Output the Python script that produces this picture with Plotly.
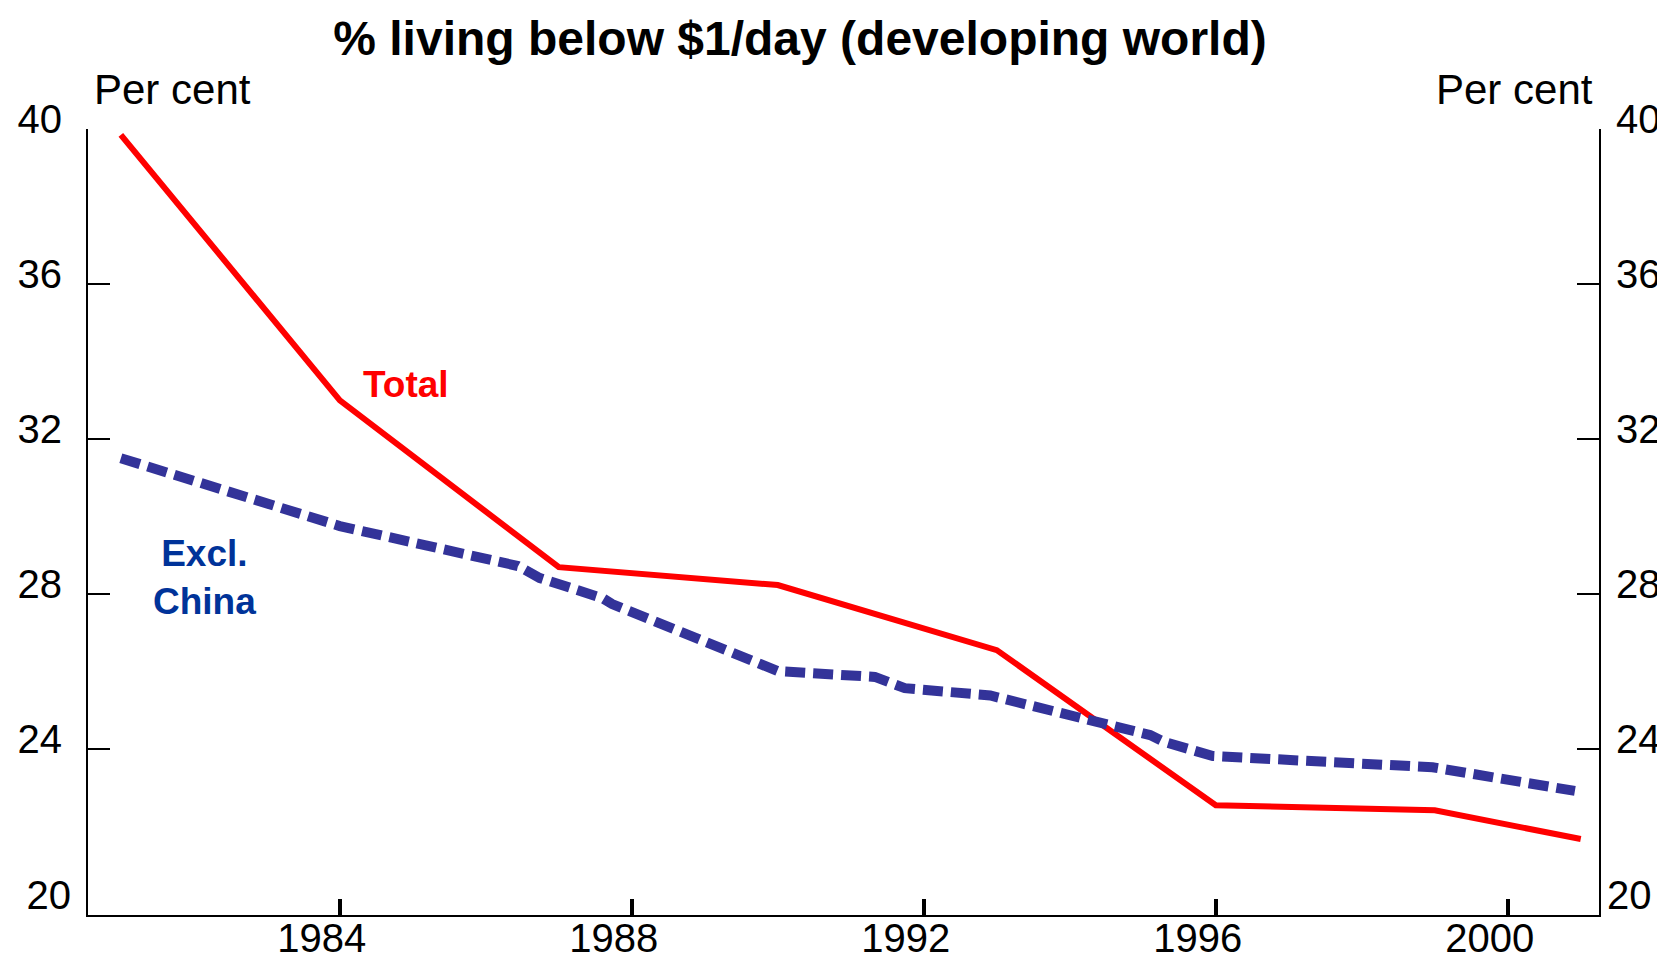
import plotly.graph_objects as go

# ---- data ----
years_total = [1981, 1984, 1987, 1990, 1993, 1996, 1999, 2001]
total = [39.85, 33.0, 28.7, 28.24, 26.56, 22.56, 22.43, 21.69]

years_excl = [1981, 1984, 1986.44, 1986.74, 1987.6, 1987.73, 1990.0, 1990.99,
              1991.33, 1991.74, 1992.29, 1992.91, 1995.1, 1995.3, 1995.96,
              1998.97, 2000.92]
excl_china = [31.51, 29.76, 28.73, 28.42, 27.9, 27.75, 26.02, 25.87,
              25.87, 25.58, 25.47, 25.39, 24.37, 24.19, 23.83,
              23.54, 22.93]

x_ticks = [1984, 1988, 1992, 1996, 2000]
y_ticks = [24, 28, 32, 36, 40]
y_bottom_label = [20]

title_text = "% living below $1/day (developing world)"
unit_text = "Per cent"

# ---- layout geometry (page has an 8px body margin) ----
OFF = 8
W, H = 1665 - OFF, 960 - OFF
PL, PR, PT, PB = 88, 1599, 129, 915          # plot box in window pixels
L, T = PL - OFF, PT - OFF
R = W - (PR - OFF)
B = H - (PB - OFF)


def px(x):
    return (x - PL) / (PR - PL)


def py(y):
    return (PB - y) / (PB - PT)


FONT = "Liberation Sans, Arial, sans-serif"
YR = [19.73, 40]

fig = go.Figure()
fig.add_trace(go.Scatter(x=years_total, y=total, mode="lines",
                         line=dict(color="#ff0000", width=6),
                         hoverinfo="skip", showlegend=False, yaxis="y"))
fig.add_trace(go.Scatter(x=years_excl, y=excl_china, mode="lines",
                         line=dict(color="#333399", width=10, dash="20px,8px"),
                         hoverinfo="skip", showlegend=False, yaxis="y2"))
# invisible carriers for label-only axes
for ax in ["y3", "y4"]:
    fig.add_trace(go.Scatter(x=years_total, y=total, mode="lines",
                             line=dict(width=0), opacity=0,
                             hoverinfo="skip", showlegend=False, yaxis=ax))

tickfont = dict(family=FONT, size=40, color="black")
common_y = dict(range=YR, showgrid=False, zeroline=False, tickfont=tickfont,
                ticklabelshift=-10, automargin=False)

fig.update_layout(
    width=W, height=H,
    margin=dict(l=L, r=R, t=T, b=B, pad=0, autoexpand=False),
    paper_bgcolor="white", plot_bgcolor="white",
    hovermode=False,
    title=dict(text="<b>" + title_text + "</b>",
               font=dict(family="Liberation Sans Narrow, Liberation Sans, Arial", size=48, color="black"),
               x=(800 - OFF) / W, xanchor="center", y=1 - (38 - OFF) / H, yanchor="middle",
               automargin=False),
    xaxis=dict(range=[1980.55, 2001.25], tickvals=x_ticks, ticks="inside",
               ticklen=16, tickwidth=3.5, tickcolor="black",
               showline=True, linewidth=2, linecolor="black",
               showgrid=False, zeroline=False, tickfont=tickfont,
               ticklabelstandoff=-13, ticklabelshift=-18, automargin=False),
    yaxis=dict(common_y, tickvals=y_ticks, ticks="inside", ticklen=22,
               tickwidth=1.5, tickcolor="black", showline=True, linewidth=2,
               linecolor="black", side="left", ticklabelstandoff=16),
    yaxis2=dict(common_y, tickvals=y_ticks, ticks="inside", ticklen=22,
                tickwidth=1.5, tickcolor="black", showline=True, linewidth=2,
                linecolor="black", side="right", overlaying="y",
                ticklabelstandoff=7),
    yaxis3=dict(common_y, tickvals=y_bottom_label, ticks="", showline=False,
                side="left", overlaying="y", ticklabelstandoff=16),
    yaxis4=dict(common_y, tickvals=y_bottom_label, ticks="", showline=False,
                side="right", overlaying="y", ticklabelstandoff=7),
)

ann_font = dict(family=FONT, size=42, color="black")
fig.add_annotation(text=unit_text, xref="paper", yref="paper",
                   x=px(92), y=py(89), xanchor="left", yanchor="middle",
                   showarrow=False, font=ann_font)
fig.add_annotation(text=unit_text, xref="paper", yref="paper",
                   x=px(1595), y=py(89), xanchor="right", yanchor="middle",
                   showarrow=False, font=ann_font)
fig.add_annotation(text="<b>Total</b>", xref="paper", yref="paper",
                   x=px(406), y=py(384), xanchor="center", yanchor="middle",
                   showarrow=False,
                   font=dict(family=FONT, size=37, color="#ff0000"))
fig.add_annotation(text="<b>Excl.<br>China</b>", xref="paper", yref="paper",
                   x=px(204), y=py(577), xanchor="center", yanchor="middle",
                   showarrow=False,
                   font=dict(family=FONT, size=37, color="#003399"))

fig.write_html("out.html")
